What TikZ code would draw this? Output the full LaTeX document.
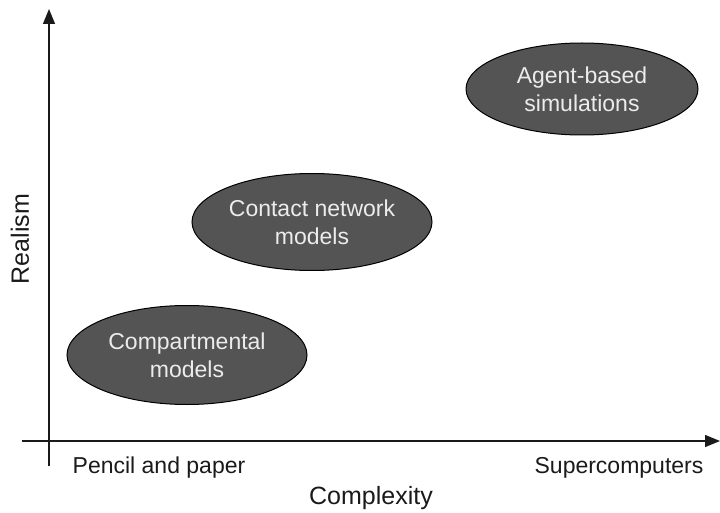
\documentclass[tikz,border=0pt]{standalone}
\usepackage{fontspec}
\setmainfont{Liberation Sans}
\usetikzlibrary{arrows.meta,shapes.geometric}
\definecolor{ellfill}{HTML}{545454}
\definecolor{elltext}{HTML}{ECECEC}
\definecolor{axiscol}{HTML}{1A1A1A}
\tikzset{
  axis/.style={draw=axiscol, line width=1.3pt, -{Triangle[length=15pt,width=12pt]}},
  blob/.style={ellipse, draw=black, line width=1pt, fill=ellfill, text=elltext,
    inner sep=0pt, align=center, font=\fontsize{23}{28}\selectfont},
  lbl/.style={text=axiscol, font=\fontsize{23}{26}\selectfont, inner sep=0pt},
  ttl/.style={text=axiscol, font=\fontsize{25}{28}\selectfont, inner sep=0pt}
}
\begin{document}
\begin{tikzpicture}[x=1pt,y=-1pt]
\useasboundingbox (0,0) rectangle (720,513);
\coordinate (yb) at (49,466);
\coordinate (yt) at (49,9);
\coordinate (xl) at (22,441);
\coordinate (xr) at (720,441);
\draw[axis] (yb) -- (yt);
\draw[axis] (xl) -- (xr);
\node[blob, minimum width=240pt, minimum height=99pt] (comp) at (187,355) {Compartmental\\models};
\node[blob, minimum width=240pt, minimum height=97pt] (cont) at (312,222) {Contact network\\models};
\node[blob, minimum width=232pt, minimum height=92pt] (agent) at (582,89) {Agent-based\\simulations};
\node[lbl] (pp) at (159,468) {Pencil and paper};
\node[lbl] (sc) at (619,468) {Supercomputers};
\node[ttl] (cx) at (371,498) {Complexity};
\node[ttl, rotate=90] (re) at (20,239) {Realism};
\end{tikzpicture}
\end{document}
